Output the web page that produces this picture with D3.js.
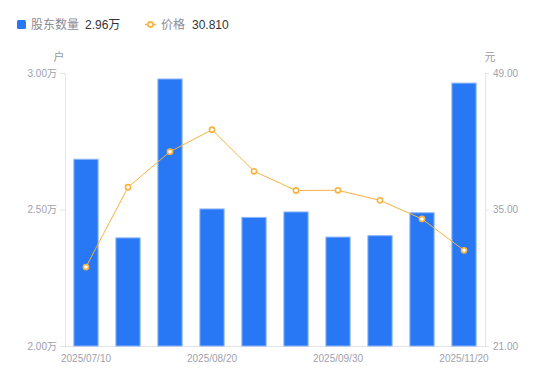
<!DOCTYPE html>
<html><head><meta charset="utf-8">
<script src="https://cdn.jsdelivr.net/npm/d3@7"></script>
<style>
body{margin:0;background:#fff;}
text{font-family:"Liberation Sans","Noto Sans CJK SC",sans-serif;}
</style></head>
<body><svg id="c" width="550" height="381"></svg>
<script>
const dates = ["2025/07/10","2025/07/20","2025/07/31","2025/08/20","2025/08/31","2025/09/10","2025/09/30","2025/10/20","2025/10/31","2025/11/20"];
const holders = [2.684,2.396,2.978,2.502,2.471,2.491,2.399,2.404,2.488,2.963]; // 万户
const prices = [29.10,37.28,40.93,43.18,38.92,36.95,36.97,35.94,34.03,30.81];
const leftTicks = [2.0,2.5,3.0];
const rightTicks = [21,35,49];
const xLabels = ["2025/07/10","2025/08/20","2025/09/30","2025/11/20"];

const FONT="'Liberation Sans','Noto Sans CJK SC',sans-serif";
const svg = d3.select("#c");
const L=65,R=485,T=73,B=346;
const x = d3.scaleBand().domain(dates).range([L,R]).paddingInner(0.4).paddingOuter(0.2);
const yL = d3.scaleLinear().domain([2,3]).range([B,T]);
const yR = d3.scaleLinear().domain([21,49]).range([B,T]);
const tickCol="#a0a1ad", axisCol="#e4e4e8";

// axes
const gl = svg.append("g").attr("transform",`translate(${L},0)`)
  .call(d3.axisLeft(yL).tickValues(leftTicks).tickSize(5).tickPadding(3).tickFormat(d=>d3.format(".2f")(d)+"万"));
const gr = svg.append("g").attr("transform",`translate(${R},0)`)
  .call(d3.axisRight(yR).tickValues(rightTicks).tickSize(4).tickPadding(4).tickFormat(d3.format(".2f")));
const gb = svg.append("g").attr("transform",`translate(0,${B})`)
  .call(d3.axisBottom(x).tickValues(xLabels).tickSize(0).tickPadding(8.5));
[gl,gr,gb].forEach(g=>{
  g.selectAll("path.domain").attr("stroke",axisCol);
  g.selectAll("line").attr("stroke",axisCol);
  g.selectAll("text").attr("fill",tickCol).style("font-size","10px").style("font-family",FONT);
});
gb.select("path.domain").attr("d",`M${L},0.5H${R}`);

// axis unit labels
svg.append("text").attr("x",59).attr("y",61).attr("text-anchor","middle").attr("fill","#999aa6").style("font-size","11px").text("户");
svg.append("text").attr("x",490).attr("y",61).attr("text-anchor","middle").attr("fill","#999aa6").style("font-size","11px").text("元");

// bars
svg.append("g").selectAll("rect").data(holders).join("rect")
  .attr("x",(d,i)=>x(dates[i])+0.5).attr("width",x.bandwidth()-1)
  .attr("y",d=>yL(d)).attr("height",d=>B-yL(d))
  .attr("fill","#2878f5").attr("stroke","#8ab4f8").attr("stroke-width",1);

// line
const line = d3.line().x((d,i)=>x(dates[i])+x.bandwidth()/2).y(d=>yR(d));
svg.append("path").datum(prices).attr("d",line).attr("fill","none").attr("stroke","#f9b23f").attr("stroke-width",1);
svg.append("g").selectAll("circle").data(prices).join("circle")
  .attr("cx",(d,i)=>x(dates[i])+x.bandwidth()/2).attr("cy",d=>yR(d)).attr("r",2.6)
  .attr("fill","#fff").attr("stroke","#f9b23f").attr("stroke-width",1.6);

// legend
const lg = svg.append("g");
lg.append("rect").attr("x",17).attr("y",20).attr("width",9).attr("height",9).attr("rx",1.5).attr("fill","#2878f5");
lg.append("text").attr("x",31).attr("y",29).attr("fill","#8a8b96").style("font-size","12px").text("股东数量");
lg.append("text").attr("x",85).attr("y",29).attr("fill","#333").style("font-size","12px").text(d3.format(".2f")(holders[holders.length-1])+"万");
lg.append("line").attr("x1",145).attr("x2",156).attr("y1",24.5).attr("y2",24.5).attr("stroke","#f9b23f").attr("stroke-width",1.5);
lg.append("circle").attr("cx",150.5).attr("cy",24.5).attr("r",2.6).attr("fill","#fff").attr("stroke","#f9b23f").attr("stroke-width",1.6);
lg.append("text").attr("x",161).attr("y",29).attr("fill","#8a8b96").style("font-size","12px").text("价格");
lg.append("text").attr("x",192).attr("y",29).attr("fill","#333").style("font-size","12px").text(d3.format(".3f")(prices[prices.length-1]));
</script></body></html>
